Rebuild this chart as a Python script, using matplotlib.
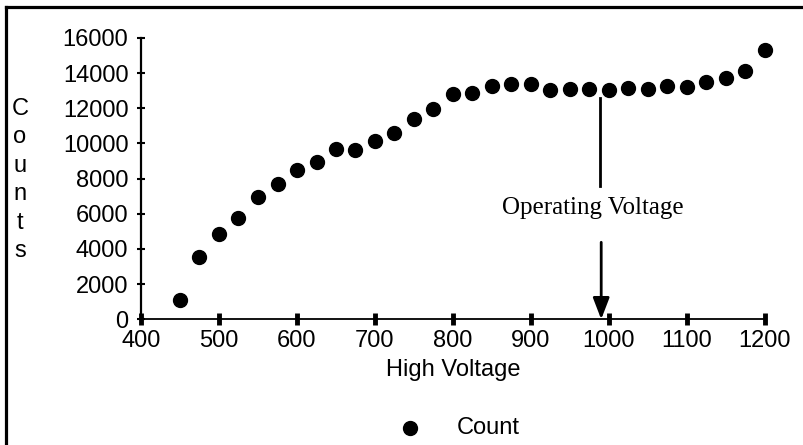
import numpy as np
import matplotlib.pyplot as plt
from matplotlib.lines import Line2D

# data
voltage = [450, 475, 500, 525, 550, 575, 600, 625, 650, 675, 700, 725,
           750, 775, 800, 825, 850, 875, 900, 925, 950, 975, 1000, 1025,
           1050, 1075, 1100, 1125, 1150, 1175, 1200]
counts = [1100, 3550, 4870, 5770, 6960, 7680, 8470, 8960, 9680, 9620, 10130, 10620,
          11410, 11940, 12830, 12890, 13260, 13360, 13360, 13020, 13110, 13110, 13020, 13170,
          13110, 13260, 13210, 13510, 13740, 14110, 15300]
x_ticks = [400, 500, 600, 700, 800, 900, 1000, 1100, 1200]
y_ticks = [0, 2000, 4000, 6000, 8000, 10000, 12000, 14000, 16000]

op_voltage = 988
op_label = 'Operating Voltage'

sans = ['Liberation Sans', 'DejaVu Sans']
serif = ['Liberation Serif', 'DejaVu Serif']
plt.rcParams['font.family'] = sans

fig = plt.figure(figsize=(8.04, 4.45), dpi=100)
ax = fig.add_axes([141 / 804, 125.7 / 445, 624 / 804, 281.3 / 445])

ax.scatter(voltage, counts, s=100, color='black', zorder=3, clip_on=False, label='Count')

ax.set_xlim(400, 1200)
ax.set_ylim(0, 16000)
ax.set_xticks(x_ticks)
ax.set_yticks(y_ticks)
for s in ['top', 'right']:
    ax.spines[s].set_visible(False)
ax.spines['left'].set_linewidth(1.6)
ax.spines['bottom'].set_linewidth(1.3)
ax.tick_params(axis='y', direction='inout', length=6, width=1.5, labelsize=17, pad=6)
ax.tick_params(axis='x', direction='inout', length=9, width=3.5, labelsize=17, pad=3)

ax.set_xlabel('High Voltage', fontsize=17, labelpad=5)

# stacked y label
fig.text(20 / 804, 1 - 180 / 445, 'C\no\nu\nn\nt\ns', fontsize=17, ha='center',
         va='center', linespacing=1.38)

# operating voltage marker
ax.plot([op_voltage, op_voltage], [7600, 12580], color='black', lw=2)
ax.annotate('', xy=(op_voltage + 2, 0), xytext=(op_voltage + 2, 4380),
            arrowprops=dict(arrowstyle='-|>,head_length=0.65,head_width=0.25',
                            mutation_scale=20, lw=2, color='black',
                            shrinkA=0, shrinkB=0))
ax.text(979, 6330, op_label, fontsize=18, family=serif, ha='center', va='center')

ax.legend(loc='center', bbox_to_anchor=(453 / 804, 1 - 428 / 445),
          bbox_transform=fig.transFigure, frameon=False, fontsize=17,
          handlelength=2, handletextpad=1.0, scatterpoints=1)

# frame on the left and top edges
fig.add_artist(Line2D([6.5 / 804, 6.5 / 804], [0, 1 - 6.5 / 445], color='black', lw=2.3,
                      transform=fig.transFigure, solid_capstyle='projecting'))
fig.add_artist(Line2D([6.5 / 804, 1], [1 - 6.5 / 445, 1 - 6.5 / 445], color='black', lw=2.3,
                      transform=fig.transFigure, solid_capstyle='projecting'))

plt.savefig('out.png', dpi=100)
